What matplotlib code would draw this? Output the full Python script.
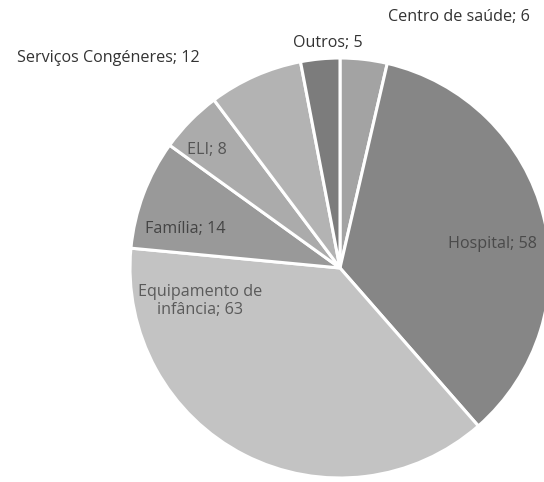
import numpy as np
import matplotlib
matplotlib.use("Agg")
import matplotlib.pyplot as plt

plt.rcParams['font.family'] = ['Open Sans', 'DejaVu Sans']

# dados
categorias = ["Centro de saúde", "Hospital", "Equipamento de\ninfância", "Família",
              "ELI", "Serviços Congéneres", "Outros"]
valores = [6, 58, 63, 14, 8, 12, 5]
cores = ["#a3a3a3", "#868686", "#c3c3c3", "#999999", "#ababab", "#b3b3b3", "#7c7c7c"]

# posição dos rótulos (px, a partir do canto superior esquerdo)
pos_rotulos = [(459, 17), (492, 244), (200, 301), (185, 229), (207, 150), (108, 58), (328, 43)]
cor_rotulos = ["#333333", "#4a4a4a", "#5a5a5a", "#444444", "#555555", "#333333", "#333333"]

W, H = 544, 482
fig = plt.figure(figsize=(W / 100, H / 100), dpi=100)
ax = fig.add_axes([0, 0, 1, 1])

ax.pie(valores, colors=cores, startangle=90, counterclock=False,
       center=(340, H - 268), radius=210,
       wedgeprops=dict(edgecolor='white', linewidth=2.2))

# pie() mexe nos limites, por isso fixa-se depois
ax.set_xlim(0, W)
ax.set_ylim(0, H)
ax.set_aspect('equal')
ax.axis('off')

for cat, v, (x, y), c in zip(categorias, valores, pos_rotulos, cor_rotulos):
    ax.text(x, H - y, f"{cat}; {v}", ha='center', va='center', fontsize=11.6,
            color=c, linespacing=1.1)

fig.savefig("out.png", dpi=100)
